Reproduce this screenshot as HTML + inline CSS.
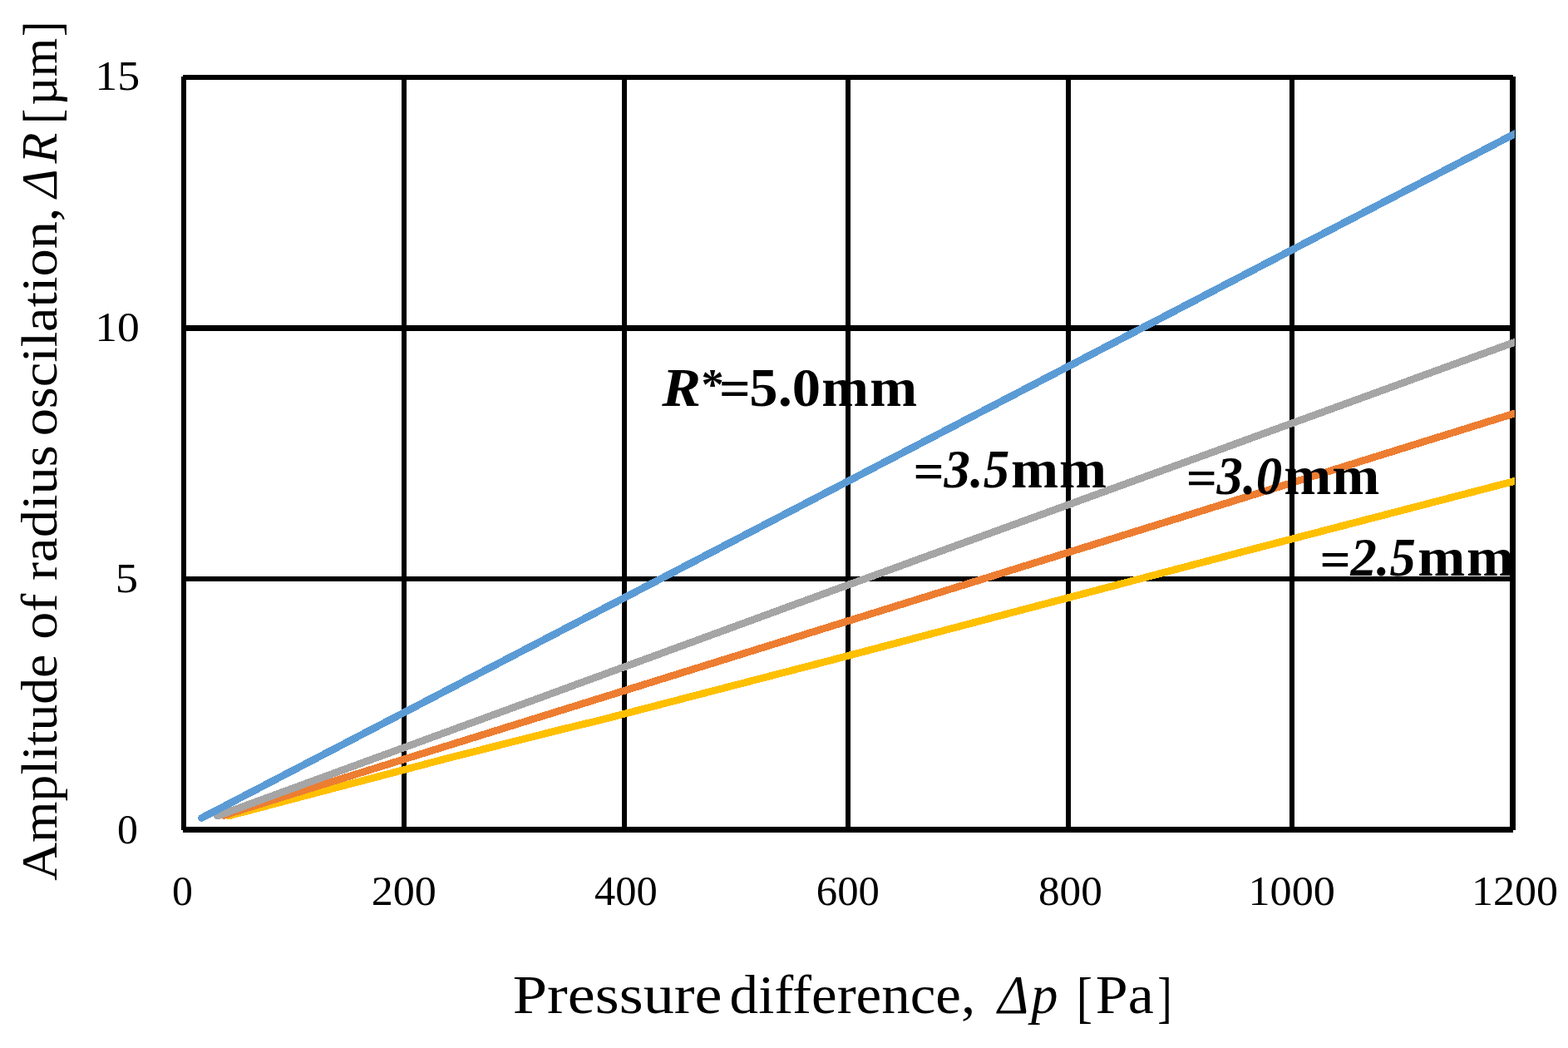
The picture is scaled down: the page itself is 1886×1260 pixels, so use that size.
<!DOCTYPE html>
<html><head><meta charset="utf-8"><title>Amplitude of radius oscillation vs pressure difference</title>
<style>
html,body{margin:0;padding:0;background:#fff;}
body{width:1886px;height:1260px;overflow:hidden;}
svg{display:block;}
text{font-family:"Liberation Serif", "DejaVu Serif", serif;fill:#000;}
</style></head>
<body>
<svg width="1886" height="1260" viewBox="0 0 1886 1260">
<defs><clipPath id="pc"><rect x="0" y="0" width="1822" height="1260"/></clipPath></defs>
<rect x="0" y="0" width="1886" height="1260" fill="#fff"/>
<g id="grid" shape-rendering="crispEdges">
<rect x="220" y="90" width="1600" height="6" fill="#000"/>
<rect x="220" y="391" width="1600" height="7" fill="#000"/>
<rect x="220" y="693" width="1600" height="5.8" fill="#000"/>
<rect x="220" y="994" width="1600" height="7" fill="#000"/>
<rect x="218" y="92" width="6" height="906" fill="#000"/>
<rect x="483" y="92" width="6" height="906" fill="#000"/>
<rect x="748" y="92" width="6" height="906" fill="#000"/>
<rect x="1017" y="92" width="6" height="906" fill="#000"/>
<rect x="1282" y="92" width="6" height="906" fill="#000"/>
<rect x="1551" y="92" width="6" height="906" fill="#000"/>
<rect x="1816" y="92" width="6.8" height="906" fill="#000"/>
</g>
<g clip-path="url(#pc)" shape-rendering="crispEdges"><polyline points="275.50,980.80 540.00,911.30 677.00,876.60 720.00,866.30 1000.00,793.70 1500.00,662.00 1830.00,576.30" fill="none" stroke="#FFC000" stroke-width="8.8" stroke-linecap="round" stroke-linejoin="round"/>
<polyline points="269.00,980.40 1830.00,494.50" fill="none" stroke="#ED7D31" stroke-width="8.8" stroke-linecap="round" stroke-linejoin="round"/>
<polyline points="261.50,981.00 1000.00,710.60 1830.00,408.40" fill="none" stroke="#A5A5A5" stroke-width="8.8" stroke-linecap="round" stroke-linejoin="round"/>
<polyline points="242.50,983.50 1830.00,156.70" fill="none" stroke="#5B9BD5" stroke-width="8.8" stroke-linecap="round" stroke-linejoin="round"/></g>
<g id="labels">
<text font-size="51.6"><tspan x="114.30" y="108.30" textLength="53.89" lengthAdjust="spacingAndGlyphs">15</tspan></text>
<text font-size="51.6"><tspan x="114.33" y="410.30" textLength="53.59" lengthAdjust="spacingAndGlyphs">10</tspan></text>
<text font-size="51.6"><tspan x="138.82" y="712.30" textLength="27.36" lengthAdjust="spacingAndGlyphs">5</tspan></text>
<text font-size="51.6"><tspan x="141.07" y="1014.30" textLength="24.91" lengthAdjust="spacingAndGlyphs">0</tspan></text>
<text font-size="51.6"><tspan x="207.07" y="1088.30" textLength="24.91" lengthAdjust="spacingAndGlyphs">0</tspan></text>
<text font-size="51.6"><tspan x="446.73" y="1088.30" textLength="78.19" lengthAdjust="spacingAndGlyphs">200</tspan></text>
<text font-size="51.6"><tspan x="715.02" y="1088.30" textLength="75.84" lengthAdjust="spacingAndGlyphs">400</tspan></text>
<text font-size="51.6"><tspan x="981.79" y="1088.30" textLength="76.08" lengthAdjust="spacingAndGlyphs">600</tspan></text>
<text font-size="51.6"><tspan x="1249.01" y="1088.30" textLength="76.87" lengthAdjust="spacingAndGlyphs">800</tspan></text>
<text font-size="51.6"><tspan x="1501.44" y="1088.30" textLength="104.53" lengthAdjust="spacingAndGlyphs">1000</tspan></text>
<text font-size="51.6"><tspan x="1769.97" y="1088.30" textLength="104.00" lengthAdjust="spacingAndGlyphs">1200</tspan></text>
<text font-size="65.6"><tspan x="616.73" y="1218.00" textLength="251.83" lengthAdjust="spacingAndGlyphs">Pressure</tspan> <tspan x="877.63" y="1218.00" textLength="295.62" lengthAdjust="spacingAndGlyphs">difference,</tspan> <tspan x="1200.16" y="1218.00" font-style="italic" textLength="37.02" lengthAdjust="spacingAndGlyphs">Δ</tspan><tspan x="1240.28" y="1218.00" font-style="italic" textLength="32.23" lengthAdjust="spacingAndGlyphs">p</tspan> <tspan x="1294.81" y="1221.80" font-size="67.47" textLength="19.26" lengthAdjust="spacingAndGlyphs">[</tspan><tspan x="1317.87" y="1217.70" textLength="69.84" lengthAdjust="spacingAndGlyphs">Pa</tspan><tspan x="1392.32" y="1221.80" font-size="67.47" textLength="17.33" lengthAdjust="spacingAndGlyphs">]</tspan></text>
<text font-size="61" transform="rotate(-90)"><tspan x="-1058.82" y="68.00" textLength="272.08" lengthAdjust="spacingAndGlyphs">Amplitude</tspan> <tspan x="-768.84" y="68.00" textLength="55.22" lengthAdjust="spacingAndGlyphs">of</tspan> <tspan x="-698.07" y="68.00" textLength="162.81" lengthAdjust="spacingAndGlyphs">radius</tspan> <tspan x="-524.35" y="68.00" textLength="274.83" lengthAdjust="spacingAndGlyphs">oscilation,</tspan> <tspan x="-237.77" y="68.00" font-style="italic" textLength="34.47" lengthAdjust="spacingAndGlyphs">Δ</tspan><tspan x="-196.55" y="68.00" font-style="italic" textLength="36.85" lengthAdjust="spacingAndGlyphs">R</tspan> <tspan x="-148.87" y="71.49" font-size="62.93" textLength="17.91" lengthAdjust="spacingAndGlyphs">[</tspan><tspan x="-126.65" y="68.00" textLength="80.73" lengthAdjust="spacingAndGlyphs">µm</tspan><tspan x="-43.92" y="71.49" font-size="62.93" textLength="18.21" lengthAdjust="spacingAndGlyphs">]</tspan></text>
<text font-size="64.7"><tspan x="796.20" y="487.70" font-style="italic" font-weight="bold" textLength="46.81" lengthAdjust="spacingAndGlyphs">R</tspan><tspan x="843.49" y="479.67" font-size="52.02" font-weight="bold" textLength="27.21" lengthAdjust="spacingAndGlyphs">*</tspan><tspan x="864.97" y="489.43" font-size="63.59" font-weight="bold" textLength="37.73" lengthAdjust="spacingAndGlyphs">=</tspan><tspan x="901.35" y="487.70" font-weight="bold" textLength="85.77" lengthAdjust="spacingAndGlyphs">5.0</tspan><tspan x="988.26" y="487.70" font-weight="bold" textLength="56.75" lengthAdjust="spacingAndGlyphs">m</tspan><tspan x="1046.15" y="487.70" font-weight="bold" textLength="56.96" lengthAdjust="spacingAndGlyphs">m</tspan></text>
<text font-size="64.7"><tspan x="1098.62" y="587.12" font-size="61.00" font-weight="bold" textLength="37.24" lengthAdjust="spacingAndGlyphs">=</tspan><tspan x="1135.59" y="586.40" font-style="italic" font-weight="bold" textLength="78.59" lengthAdjust="spacingAndGlyphs">3.5</tspan><tspan x="1216.10" y="586.40" font-weight="bold" textLength="57.12" lengthAdjust="spacingAndGlyphs">m</tspan><tspan x="1274.05" y="586.40" font-weight="bold" textLength="57.06" lengthAdjust="spacingAndGlyphs">m</tspan></text>
<text font-size="64.7"><tspan x="1426.72" y="594.92" font-size="61.00" font-weight="bold" textLength="37.24" lengthAdjust="spacingAndGlyphs">=</tspan><tspan x="1463.59" y="593.90" font-style="italic" font-weight="bold" textLength="78.51" lengthAdjust="spacingAndGlyphs">3.0</tspan><tspan x="1544.15" y="593.90" font-weight="bold" textLength="57.06" lengthAdjust="spacingAndGlyphs">m</tspan><tspan x="1602.15" y="593.90" font-weight="bold" textLength="57.06" lengthAdjust="spacingAndGlyphs">m</tspan></text>
<text font-size="64.7"><tspan x="1587.42" y="692.98" font-size="60.26" font-weight="bold" textLength="37.24" lengthAdjust="spacingAndGlyphs">=</tspan><tspan x="1624.53" y="691.80" font-style="italic" font-weight="bold" textLength="78.25" lengthAdjust="spacingAndGlyphs">2.5</tspan><tspan x="1705.15" y="691.80" font-weight="bold" textLength="57.06" lengthAdjust="spacingAndGlyphs">m</tspan><tspan x="1764.05" y="691.80" font-weight="bold" textLength="57.06" lengthAdjust="spacingAndGlyphs">m</tspan></text>

</g>
</svg>
</body></html>
